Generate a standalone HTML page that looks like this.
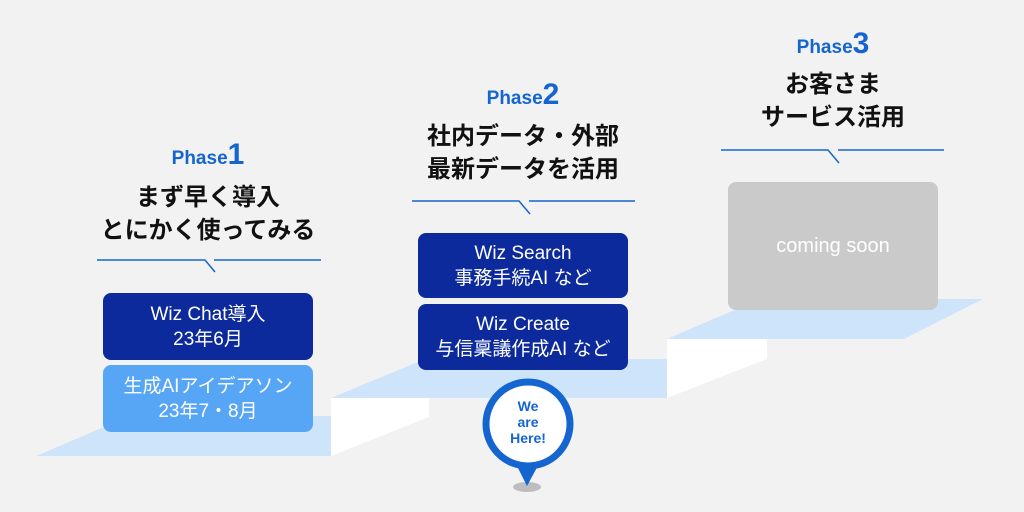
<!DOCTYPE html>
<html><head><meta charset="utf-8"><style>
html,body{margin:0;padding:0;background:#f2f2f2;}
body{width:1024px;height:512px;position:relative;overflow:hidden;font-family:"Liberation Sans","Noto Sans CJK JP",sans-serif;}
.t{position:absolute;text-align:center;width:300px;}
.ph{color:#1565d0;font-weight:bold;font-size:19px;}
.ph b{font-size:30px;}
.ti{font-weight:bold;font-size:24px;color:#111;line-height:33px;}
.box{position:absolute;width:210px;border-radius:8px;color:#fff;text-align:center;font-size:19px;line-height:25px;display:flex;flex-direction:column;justify-content:center;}
.dk{background:#0c2a9c;}
</style></head><body>
<svg width="1024" height="512" style="position:absolute;left:0;top:0">
<polygon points="36,456 331,456 331,416 130,416" fill="#cde4fa"/>
<polygon points="331,398 429,398 429,417 331,456" fill="#fff"/>
<polygon points="331,398 667,398 667,359 425,359" fill="#cde4fa"/>
<polygon points="667,339 767,339 767,359 667,398" fill="#fff"/>
<polygon points="667,339 904,339 983,299 760,299" fill="#cde4fa"/>
<g stroke="#1565d0" stroke-width="1.5" fill="none">
<polyline points="97,260 205,260 215,272"/><line x1="214" y1="260" x2="321" y2="260"/>
<polyline points="412,201 519,201 530,214"/><line x1="529" y1="201" x2="635" y2="201"/>
<polyline points="721,150 828,150 839,163"/><line x1="838" y1="150" x2="944" y2="150"/>
</g>
<ellipse cx="527" cy="487" rx="14" ry="5" fill="#bdbdbd"/>
<polygon points="514,460 541,460 527,486" fill="#1565d0"/>
<circle cx="528" cy="424" r="42" fill="#fff" stroke="#1565d0" stroke-width="7"/>
<text x="528" y="411" text-anchor="middle" font-family="Liberation Sans" font-weight="bold" font-size="14" fill="#1565d0">We</text>
<text x="528" y="427" text-anchor="middle" font-family="Liberation Sans" font-weight="bold" font-size="14" fill="#1565d0">are</text>
<text x="528" y="443" text-anchor="middle" font-family="Liberation Sans" font-weight="bold" font-size="14" fill="#1565d0">Here!</text>
</svg>
<div class="t ph" style="left:58px;top:138px">Phase<b>1</b></div>
<div class="t ti" style="left:58px;top:181px">まず早く導入<br>とにかく使ってみる</div>
<div class="t ph" style="left:373px;top:78px">Phase<b>2</b></div>
<div class="t ti" style="left:373px;top:120px">社内データ・外部<br>最新データを活用</div>
<div class="t ph" style="left:683px;top:27px">Phase<b>3</b></div>
<div class="t ti" style="left:683px;top:68px">お客さま<br>サービス活用</div>
<div class="box dk" style="left:103px;top:293px;height:67px">Wiz Chat導入<br>23年6月</div>
<div class="box" style="left:103px;top:365px;height:67px;background:#57a5f5">生成AIアイデアソン<br>23年7・8月</div>
<div class="box dk" style="left:418px;top:233px;height:65px">Wiz Search<br>事務手続AI など</div>
<div class="box dk" style="left:418px;top:304px;height:66px">Wiz Create<br>与信稟議作成AI など</div>
<div class="box" style="left:728px;top:182px;height:128px;background:#cacaca;font-size:20px">coming soon</div>
</body></html>
